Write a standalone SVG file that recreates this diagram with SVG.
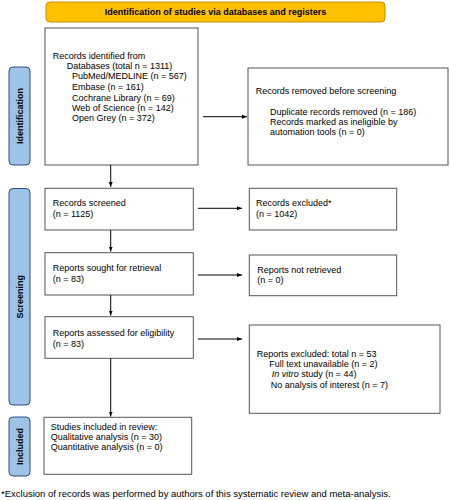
<svg xmlns="http://www.w3.org/2000/svg" width="450" height="500" viewBox="0 0 450 500">
<defs>
<marker id="ah" viewBox="0 0 10 10" refX="10" refY="5" markerWidth="5" markerHeight="5" orient="auto" markerUnits="userSpaceOnUse">
<path d="M0,1 L10,5 L0,9 Z" fill="#000"/>
</marker>
<style>
text{font-family:"Liberation Sans",Arial,sans-serif;font-size:9px;fill:#000}
.box{fill:#fff;stroke:#555;stroke-width:1}
.side{fill:#9DC3E6;stroke:#2F4F80;stroke-width:1}
.lbl{font-weight:bold}
.note{font-size:9.5px}
.conn{stroke:#000;stroke-width:1;fill:none;marker-end:url(#ah)}
</style>
</defs>
<rect width="450" height="500" fill="#fff"/>
<g id="banner">
<rect x="46" y="2" width="339" height="20" rx="4" fill="#FFC000" stroke="#BF9000" stroke-width="1"/>
<text class="lbl" x="215.5" y="15.3" text-anchor="middle">Identification of studies via databases and registers</text>
</g>
<g id="side-identification">
<rect class="side" x="9" y="67" width="21" height="98" rx="4"/>
<text class="lbl" transform="translate(22.5,116) rotate(-90)" text-anchor="middle">Identification</text>
</g>
<g id="side-screening">
<rect class="side" x="9" y="188.5" width="21" height="216.5" rx="4"/>
<text class="lbl" transform="translate(22.5,296.75) rotate(-90)" text-anchor="middle">Screening</text>
</g>
<g id="side-included">
<rect class="side" x="9" y="417" width="21" height="59" rx="4"/>
<text class="lbl" transform="translate(22.5,446.5) rotate(-90)" text-anchor="middle">Included</text>
</g>
<g id="identified">
<rect class="box" x="45" y="28" width="153" height="137"/>
<text x="52.7" y="58.5">Records identified from</text>
<text x="66.7" y="69">Databases (total n = 1311)</text>
<text x="72" y="79.3">PubMed/MEDLINE (n = 567)</text>
<text x="72" y="90">Embase (n = 161)</text>
<text x="72" y="100.5">Cochrane Library (n = 69)</text>
<text x="72" y="110.8">Web of Science (n = 142)</text>
<text x="72" y="121">Open Grey (n = 372)</text>
</g>
<g id="removed">
<rect class="box" x="248" y="68" width="200" height="97"/>
<text x="255.7" y="94">Records removed before screening</text>
<text x="270" y="115.3">Duplicate records removed (n = 186)</text>
<text x="270" y="125.3">Records marked as ineligible by</text>
<text x="270" y="135.3">automation tools (n = 0)</text>
</g>
<g id="screened">
<rect class="box" x="45" y="188.3" width="148.3" height="41.7"/>
<text x="52.7" y="206">Records screened</text>
<text x="52.7" y="216.8">(n = 1125)</text>
</g>
<g id="excluded">
<rect class="box" x="249.3" y="188.3" width="147.4" height="41.7"/>
<text x="256" y="206">Records excluded*</text>
<text x="256" y="216.8">(n = 1042)</text>
</g>
<g id="sought">
<rect class="box" x="45" y="252.7" width="148.3" height="42.3"/>
<text x="52.7" y="270.7">Reports sought for retrieval</text>
<text x="52.7" y="281.7">(n = 83)</text>
</g>
<g id="notretrieved">
<rect class="box" x="249.3" y="255" width="147.4" height="40.7"/>
<text x="257.3" y="272.7">Reports not retrieved</text>
<text x="257.3" y="282.7">(n = 0)</text>
</g>
<g id="assessed">
<rect class="box" x="45" y="316.7" width="148.3" height="41.6"/>
<text x="52.7" y="335.7">Reports assessed for eligibility</text>
<text x="52.7" y="346.7">(n = 83)</text>
</g>
<g id="reportsexcluded">
<rect class="box" x="249.3" y="325" width="190.7" height="88.3"/>
<text x="256.7" y="356.7">Reports excluded: total n = 53</text>
<text x="269.3" y="366.7">Full text unavailable (n = 2)</text>
<text x="271.7" y="377"><tspan font-style="italic">In vitro</tspan> study (n = 44)</text>
<text x="270.7" y="387.7">No analysis of interest (n = 7)</text>
</g>
<g id="included">
<rect class="box" x="44" y="417.3" width="147.7" height="57"/>
<text x="50.7" y="430">Studies included in review:</text>
<text x="50.7" y="440">Qualitative analysis (n = 30)</text>
<text x="50.7" y="450">Quantitative analysis (n = 0)</text>
</g>
<g id="connectors">
<line class="conn" x1="203" y1="116.7" x2="247" y2="116.7"/>
<line class="conn" x1="110.7" y1="165" x2="110.7" y2="187"/>
<line class="conn" x1="198" y1="208.3" x2="242" y2="208.3"/>
<line class="conn" x1="110.7" y1="230" x2="110.7" y2="251.5"/>
<line class="conn" x1="198" y1="275" x2="242" y2="275"/>
<line class="conn" x1="110.7" y1="295" x2="110.7" y2="315.5"/>
<line class="conn" x1="198" y1="339" x2="242" y2="339"/>
<line class="conn" x1="110.7" y1="358.3" x2="110.7" y2="416.5"/>
</g>
<g id="footnote">
<text class="note" x="1" y="497">*Exclusion of records was performed by authors of this systematic review and meta-analysis.</text>
</g>
</svg>
